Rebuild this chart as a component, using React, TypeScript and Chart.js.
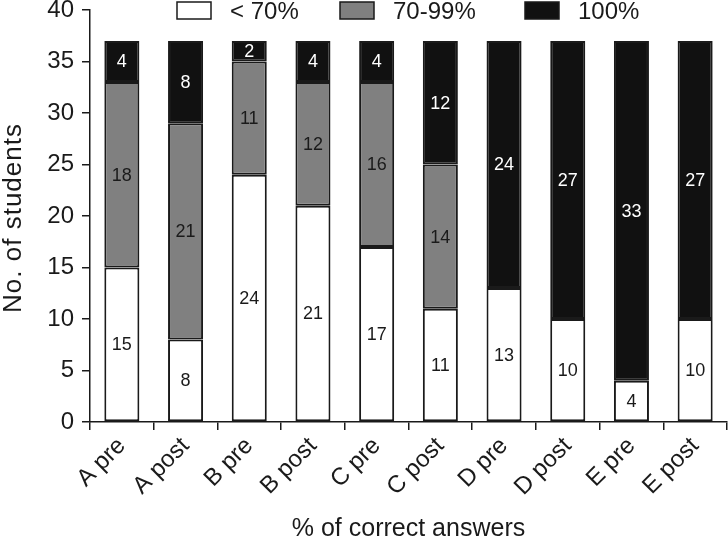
import React, { useEffect, useRef } from "react";
import { Chart, registerables } from "chart.js";

Chart.register(...registerables);

const categories = ["A pre", "A post", "B pre", "B post", "C pre", "C post", "D pre", "D post", "E pre", "E post"];
const below70 = [15, 8, 24, 21, 17, 11, 13, 10, 4, 10];
const mid70to99 = [18, 21, 11, 12, 16, 14, 0, 0, 0, 0];
const full100 = [4, 8, 2, 4, 4, 12, 24, 27, 33, 27];
const seriesLabels = ["< 70%", "70-99%", "100%"];
const seriesColors = ["#ffffff", "#808080", "#111111"];
const labelColors = ["#1a1a1a", "#1a1a1a", "#ffffff"];
const yTitle = "No. of students";
const xTitle = "% of correct answers";

const FONT = '"Liberation Sans", Arial, Helvetica, sans-serif';
const INK = "#1a1a1a";

const legendPlugin = {
  id: "customLegend",
  afterDraw(chart: any) {
    const ctx = chart.ctx;
    const xs = [177, 340, 525];
    ctx.save();
    chart.data.datasets.forEach((ds: any, i: number) => {
      const x = xs[i];
      ctx.fillStyle = ds.backgroundColor;
      ctx.fillRect(x, 2, 34, 17);
      ctx.lineWidth = 1.5;
      ctx.strokeStyle = INK;
      ctx.strokeRect(x, 2, 34, 17);
      ctx.fillStyle = INK;
      ctx.font = `24px ${FONT}`;
      ctx.textAlign = "left";
      ctx.textBaseline = "middle";
      ctx.fillText(ds.label, x + 53, 12);
    });
    // y axis title
    const area = chart.chartArea;
    ctx.translate(14, (area.top + area.bottom) / 2 + 2);
    ctx.rotate(-Math.PI / 2);
    ctx.font = `26px ${FONT}`;
    (ctx as any).letterSpacing = "1px";
    ctx.textAlign = "center";
    ctx.textBaseline = "middle";
    ctx.fillStyle = INK;
    ctx.fillText(yTitle, 0, 0);
    ctx.restore();
  },
};

const valueLabelPlugin = {
  id: "valueLabels",
  afterDatasetsDraw(chart: any) {
    const ctx = chart.ctx;
    ctx.save();
    ctx.font = `18px ${FONT}`;
    ctx.textAlign = "center";
    ctx.textBaseline = "middle";
    chart.data.datasets.forEach((ds: any, i: number) => {
      const meta = chart.getDatasetMeta(i);
      meta.data.forEach((bar: any, j: number) => {
        const v = ds.data[j];
        if (!v) return;
        ctx.fillStyle = labelColors[i];
        ctx.fillText(String(v), bar.x, (bar.y + bar.base) / 2 + 1);
      });
    });
    ctx.restore();
  },
};

export default function App() {
  const ref = useRef<HTMLCanvasElement | null>(null);

  useEffect(() => {
    if (!ref.current) return;
    const series = [below70, mid70to99, full100];
    const chart = new Chart(ref.current, {
      type: "bar",
      data: {
        labels: categories,
        datasets: series.map((d, i) => ({
          label: seriesLabels[i],
          data: d,
          backgroundColor: seriesColors[i],
          borderColor: INK,
          borderWidth: 2,
          borderSkipped: false,
          barPercentage: 0.55,
          categoryPercentage: 1,
        })),
      },
      options: {
        responsive: false,
        animation: false,
        layout: { padding: { top: 10, right: 1, left: 0, bottom: 0 } },
        plugins: {
          legend: { display: false },
          tooltip: { enabled: false },
        },
        scales: {
          x: {
            stacked: true,
            offset: true,
            afterFit: (s: any) => {
              s.height = 122;
              s.paddingLeft = 0;
              s.paddingRight = 0;
            },
            grid: {
              display: true,
              offset: true,
              drawOnChartArea: false,
              drawTicks: true,
              tickLength: 8,
              color: INK,
              lineWidth: 1.5,
            },
            border: { display: true, color: INK, width: 1.5 },
            ticks: {
              color: INK,
              font: { family: FONT, size: 24 },
              minRotation: 45,
              maxRotation: 45,
              padding: 2,
            },
            title: {
              display: true,
              text: xTitle,
              color: INK,
              font: { family: FONT, size: 25, lineHeight: 1 },
              padding: { top: 0, bottom: 2 },
            },
          },
          y: {
            stacked: true,
            min: 0,
            max: 40,
            afterFit: (s: any) => {
              s.width = 90;
              s.paddingTop = 0;
              s.paddingBottom = 0;
            },
            grid: {
              display: true,
              drawOnChartArea: false,
              drawTicks: true,
              tickLength: 8,
              color: INK,
              lineWidth: 1.5,
            },
            border: { display: true, color: INK, width: 1.5 },
            ticks: {
              stepSize: 5,
              color: INK,
              font: { family: FONT, size: 24 },
              padding: 8,
            },
            title: { display: false },
          },
        },
      },
      plugins: [legendPlugin, valueLabelPlugin],
    });
    return () => chart.destroy();
  }, []);

  return (
    <div style={{ position: "absolute", left: 0, top: 0, width: 728, height: 544, background: "#ffffff" }}>
      <canvas ref={ref} width={728} height={544} />
    </div>
  );
}
